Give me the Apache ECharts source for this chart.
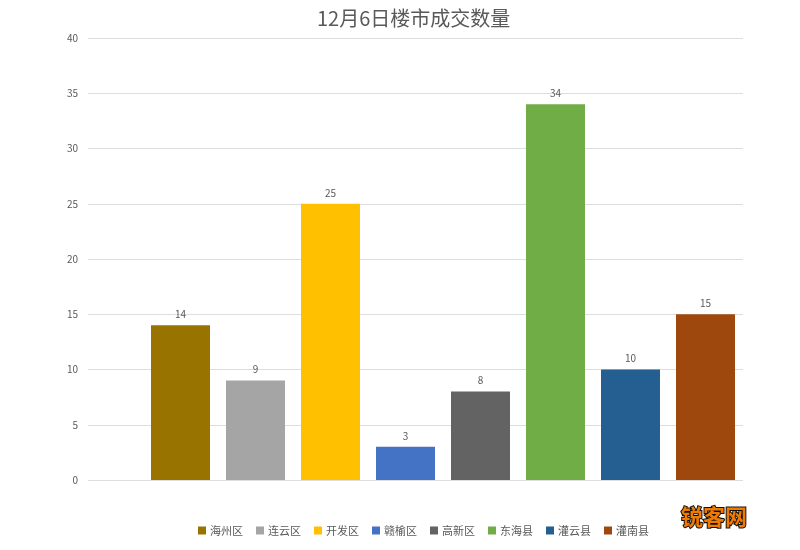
<!DOCTYPE html>
<html>
<head>
<meta charset="utf-8">
<script src="https://cdn.jsdelivr.net/npm/echarts@6/dist/echarts.min.js"></script>
<style>html,body{margin:0;padding:0;background:#fff}#c{width:800px;height:550px}</style>
</head>
<body>
<div id="c"></div>
<script>
const categories = ['海州区', '连云区', '开发区', '赣榆区', '高新区', '东海县', '灌云县', '灌南县'];
const values = [14, 9, 25, 3, 8, 34, 10, 15];
const colors = ['#997300', '#A5A5A5', '#FFC000', '#4472C4', '#636363', '#70AD47', '#255E91', '#9E480E'];
const yTicks = { min: 0, max: 40, interval: 5 };

const chart = echarts.init(document.getElementById('c'));
const txt = '#595959';
const font = '"Noto Sans CJK SC", "Noto Sans", sans-serif';

const series = categories.map((name, i) => ({
  name: name,
  type: 'bar',
  xAxisIndex: 1,
  yAxisIndex: 1,
  barWidth: 59,
  barGap: '-100%',
  itemStyle: { color: colors[i] },
  label: { show: true, position: 'top', color: txt, fontSize: 10, fontFamily: font, distance: 6 },
  data: values.map((v, j) => (j === i ? v : '-'))
}));

chart.setOption({
  backgroundColor: '#fff',
  animation: false,
  color: colors,
  title: {
    text: '12月6日楼市成交数量',
    left: 312, top: 3,
    textStyle: { color: txt, fontSize: 20, fontWeight: 'normal', fontFamily: font }
  },
  legend: {
    left: 193, top: 520,
    itemWidth: 8, itemHeight: 8, itemGap: 13,
    icon: 'rect',
    textStyle: { color: txt, fontSize: 11, fontFamily: font, padding: [0, 0, 0, -1] },
    data: categories
  },
  grid: [
    { left: 88, right: 57, top: 38, bottom: 70 },
    { left: 143, right: 57, top: 38, bottom: 70 }
  ],
  xAxis: [
    { type: 'category', gridIndex: 0, data: [''], axisLine: { show: false }, axisTick: { show: false }, axisLabel: { show: false } },
    { type: 'category', gridIndex: 1, data: categories, axisLine: { show: false }, axisTick: { show: false }, axisLabel: { show: false } }
  ],
  yAxis: [
    {
      type: 'value', gridIndex: 0, min: yTicks.min, max: yTicks.max, interval: yTicks.interval,
      axisLine: { show: false }, axisTick: { show: false },
      axisLabel: { color: txt, fontSize: 10, fontFamily: font, margin: 10 },
      splitLine: { lineStyle: { color: '#DDDDDD', width: 1 } }
    },
    {
      type: 'value', gridIndex: 1, min: yTicks.min, max: yTicks.max, interval: yTicks.interval,
      axisLine: { show: false }, axisTick: { show: false }, axisLabel: { show: false }, splitLine: { show: false }
    }
  ],
  series: series,
  graphic: [{
    type: 'text', left: 680, top: 505,
    style: {
      text: '锐客网', fill: '#F07A00', stroke: '#111', lineWidth: 2,
      fontSize: 22, fontWeight: 'bold', fontFamily: font
    }
  }]
});
</script>
</body>
</html>
